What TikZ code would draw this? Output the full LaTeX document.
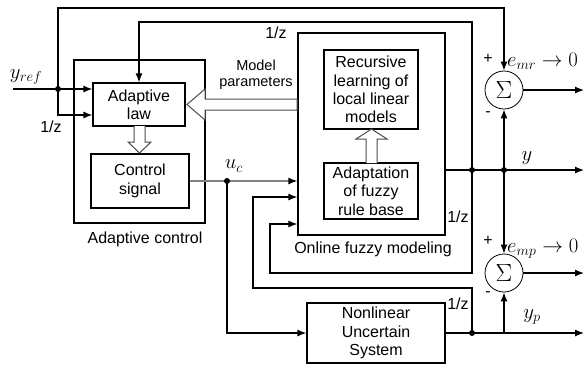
\documentclass[tikz,border=0pt]{standalone}
\usepackage{fontspec}
\setmainfont{Liberation Sans}
\usetikzlibrary{arrows.meta,calc}
\begin{document}
\begin{tikzpicture}[x=1pt,y=-1pt,
  every node/.style={font=\fontsize{16}{18.3}\selectfont},
  blk/.style={draw, line width=1.2pt, align=center, inner sep=0pt},
  ln/.style={line width=1.2pt},
  arr/.style={ln,-{Latex[length=9pt,width=7pt]}},
  hol/.style={draw=gray!60!black, fill=white, line width=1pt},
  dot/.style={circle, fill, inner sep=0pt, minimum size=6pt},
  sumnode/.style={draw, circle, line width=0.8pt, minimum size=38pt, inner sep=0pt, font=\fontsize{27}{27}\selectfont},
  lbl/.style={inner sep=1pt},
  mth/.style={inner sep=1pt, font=\fontsize{20}{22}\selectfont}
]
\useasboundingbox (0,0) rectangle (584,365);

% blocks
\node[blk, minimum width=131pt, minimum height=163pt] (ac) at (139.5,141.5) {};
\node[blk, minimum width=92pt, minimum height=43pt] (al) at (139,104.5) {Adaptive\\law};
\node[blk, minimum width=98pt, minimum height=54pt] (cs) at (140,181) {Control\\signal};
\node[blk, minimum width=147pt, minimum height=202pt] (ofm) at (371.5,134) {};
\node[blk, minimum width=94pt, minimum height=79pt] (rl) at (371,89.5) {Recursive\\learning of\\local linear\\models};
\node[blk, minimum width=94pt, minimum height=56pt] (af) at (371,191) {Adaptation\\of fuzzy\\rule base};
\node[blk, minimum width=138pt, minimum height=60pt] (nl) at (376,333) {Nonlinear\\Uncertain\\System};
\node[sumnode] (s1) at (504,90) {$\Sigma$};
\node[sumnode] (s2) at (504,273) {$\Sigma$};

% labels
\node[lbl] (lac) at (145,239) {Adaptive control};
\node[lbl] (lofm) at (373,249) {Online fuzzy modeling};
\node[lbl, align=center, font=\fontsize{14.5}{16}\selectfont] (lmp) at (256,75) {Model\\parameters};
\node[lbl] (z1) at (51,127) {1/z};
\node[lbl] (z2) at (276,33) {1/z};
\node[lbl] (z3) at (458,217) {1/z};
\node[lbl] (z4) at (458,304) {1/z};
\node[mth] (lyref) at (26,77) {$y_{ref}$};
\node[mth] (luc) at (234,166) {$u_c$};
\node[mth] (ly) at (527,158) {$y$};
\node[mth] (lyp) at (532,317) {$y_p$};
\node[mth, anchor=west] (lemr) at (506,61) {$e_{mr}\rightarrow 0$};
\node[mth, anchor=west] (lemp) at (506,249) {$e_{mp}\rightarrow 0$};
\node[lbl] (p1) at (488,59) {+};
\node[lbl] (m1) at (488,114) {-};
\node[lbl] (p2) at (488,241) {+};
\node[lbl] (m2) at (488,294) {-};

% coordinates
\coordinate (yin) at (13,89);
\coordinate (j1) at (58,89);
\coordinate (d1) at (58,115);
\coordinate (t1) at (58,8);
\coordinate (t2) at (472,22);
\coordinate (yo) at (445,170);
\coordinate (jy1) at (472,170);
\coordinate (jy2) at (504,170);
\coordinate (yend) at (584,170);
\coordinate (e1) at (584,90);
\coordinate (e2) at (584,273);
\coordinate (b1) at (472,273);
\coordinate (b2) at (270,273);
\coordinate (b3) at (270,224);
\coordinate (ucd) at (227,181);
\coordinate (ucb) at (227,333);
\coordinate (jp1) at (472,333);
\coordinate (jp2) at (504,333);
\coordinate (pend) at (584,333);
\coordinate (c1) at (472,288);
\coordinate (c2) at (253,288);
\coordinate (c3) at (253,197);

% reference input
\draw[arr] (yin) -- (yin -| al.west);
\draw[arr] (j1) -- (d1) -- (d1 -| al.west);
\draw[arr] (j1) -- (t1) -| (s1.north);

% y output
\draw[arr] (yo) -- (yend);
\draw[arr] (jy1) -- (t2) -| (al.north);
\draw[arr] (jy2) -- (s1.south);
\draw[arr] (jy2) -- (s2.north);
\draw[arr] (s1.east) -- (e1);
\draw[arr] (s2.east) -- (e2);
\draw[arr] (jy1) -- (b1) -- (b2) -- (b3) -- (b3 -| ofm.west);

% control signal
\draw[ln, draw=gray, -{Latex[length=9pt,width=7pt,black]}] (cs.east |- ucd) -- (ucd -| ofm.west);
\draw[arr] (ucd) -- (ucb) -- (nl.west);

% plant output
\draw[arr] (nl.east) -- (pend);
\draw[arr] (jp2) -- (s2.south);
\draw[arr] (jp1) -- (c1) -- (c2) -- (c3) -- (c3 -| ofm.west);

% dots
\node[dot] at (j1) {};
\node[dot] at (jy1) {};
\node[dot] at (jy2) {};
\node[dot] at (ucd) {};
\node[dot] at (jp1) {};

% hollow arrows
\draw[hol] (297,99) -- (205,99) -- (205,89) -- (187,104.5) -- (205,120) -- (205,110) -- (297,110) -- cycle;
\draw[hol] (134,126) -- (134,142) -- (128,142) -- (139.5,153) -- (151,142) -- (145,142) -- (145,126);
\draw[hol] (366,163) -- (366,139) -- (356,139) -- (371.5,129) -- (387,139) -- (377,139) -- (377,163);
\end{tikzpicture}
\end{document}
